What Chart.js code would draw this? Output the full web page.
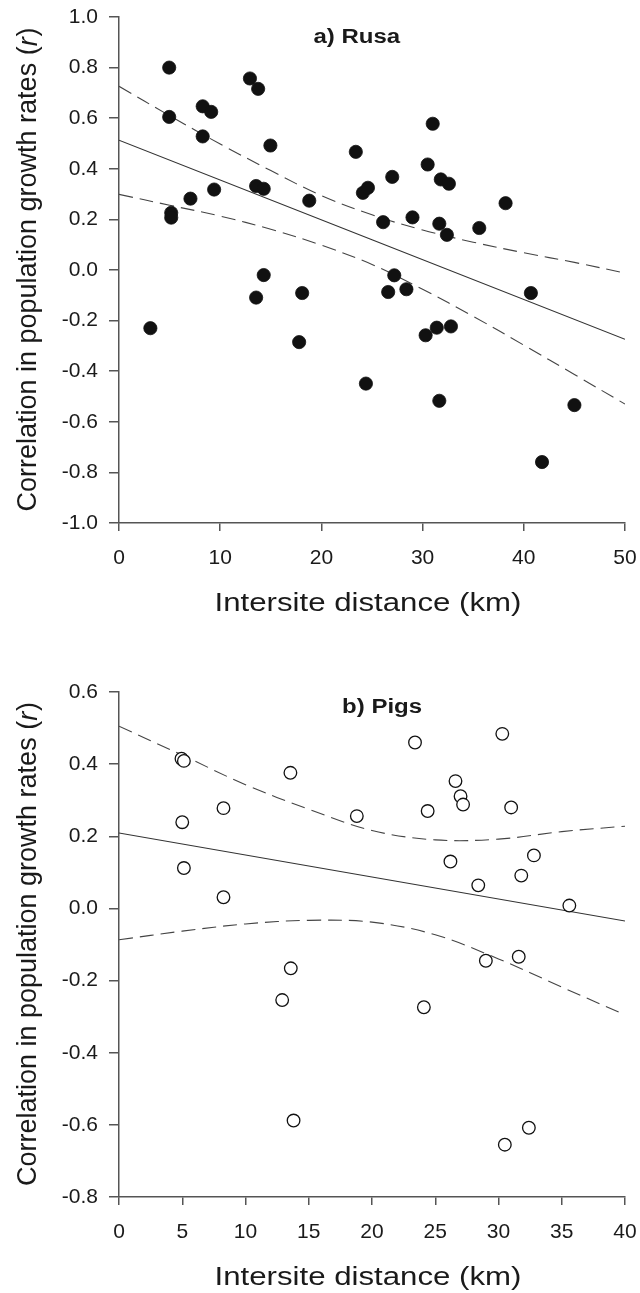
<!DOCTYPE html>
<html><head><meta charset="utf-8">
<script src="https://cdn.jsdelivr.net/npm/chart.js@4/dist/chart.umd.min.js"></script>
<style>
html,body{margin:0;padding:0;background:#fff;}
#wa{position:absolute;left:0;top:0;width:640px;height:640px;}
#wb{position:absolute;left:0;top:640px;width:640px;height:653px;}
</style></head><body>
<div id="wa"><canvas id="ca"></canvas></div>
<div id="wb"><canvas id="cb"></canvas></div>
<script>
// ---------- a) Rusa ----------
const rusaDistance = [4.96,4.96,5.16,5.16,7.06,8.27,9.11,8.27,9.4,12.94,13.75,14.96,13.55,14.3,14.3,13.55,18.1,18.8,23.4,24.1,24.6,27.0,26.1,27.2,26.6,28.4,29.0,30.5,31.0,31.8,32.6,31.65,32.4,35.6,38.2,40.7,3.1,17.8,24.4,30.3,31.4,32.8,31.65,45.0,41.8];
const rusaCorrelation = [0.80,0.605,0.226,0.207,0.282,0.647,0.625,0.528,0.318,0.757,0.716,0.492,0.332,0.321,-0.02,-0.109,-0.091,0.274,0.467,0.305,0.325,0.368,0.189,-0.021,-0.087,-0.076,0.208,0.417,0.578,0.358,0.341,0.183,0.139,0.166,0.264,-0.091,-0.23,-0.285,-0.449,-0.258,-0.228,-0.223,-0.517,-0.534,-0.759];
const rusaFitX = [0, 50];
const rusaFitY = [0.513, -0.274];
const rusaBandX = [0,5,10,15,20,25,30,35,40,45,50];
const rusaUpper = [0.726,0.610,0.498,0.393,0.294,0.218,0.158,0.110,0.068,0.030,-0.012];
const rusaLower = [0.299,0.256,0.213,0.161,0.098,0.022,-0.076,-0.183,-0.297,-0.413,-0.530];
const rusaXTicks = [0,10,20,30,40,50];
const rusaYTicks = [-1.0,-0.8,-0.6,-0.4,-0.2,0.0,0.2,0.4,0.6,0.8,1.0];

// ---------- b) Pigs ----------
const pigsDistance = [4.94,5.13,5.0,5.13,8.26,8.26,13.55,18.8,23.4,24.4,26.6,27.0,27.2,30.3,31.0,26.2,28.4,32.8,31.8,35.6,13.58,12.9,13.8,24.1,29.0,31.6,30.5,32.4];
const pigsCorrelation = [0.415,0.409,0.239,0.112,0.278,0.031,0.376,0.256,0.460,0.270,0.353,0.311,0.288,0.484,0.280,0.130,0.064,0.147,0.091,0.008,-0.166,-0.254,-0.588,-0.274,-0.145,-0.134,-0.655,-0.608];
const pigsFitX = [0, 40];
const pigsFitY = [0.209, -0.035];
const pigsBandX = [0,5,10,15,20,25,30,35,40];
const pigsUpper = [0.505,0.425,0.343,0.275,0.216,0.190,0.192,0.213,0.228];
const pigsLower = [-0.087,-0.063,-0.043,-0.033,-0.038,-0.073,-0.140,-0.218,-0.295];
const pigsXTicks = [0,5,10,15,20,25,30,35,40];
const pigsYTicks = [-0.8,-0.6,-0.4,-0.2,0.0,0.2,0.4,0.6];

const FONT = "'Liberation Sans', Arial, Helvetica, sans-serif";
const AXIS = '#555';
const TXT = '#1a1a1a';
const STRETCH = 1.2;

function pts(xs, ys){ return xs.map((x,i)=>({x:x, y:ys[i]})); }

function wideText(ctx, s, x, y){
  ctx.save();
  ctx.translate(x, y);
  ctx.scale(STRETCH, 1);
  ctx.fillText(s, 0, 0);
  ctx.restore();
}

const textPlugin = {
  id: 'textPlugin',
  afterDraw(chart, args, o){
    const ctx = chart.ctx, a = chart.chartArea;
    ctx.save();
    ctx.fillStyle = TXT;
    ctx.textAlign = 'center'; ctx.textBaseline = 'middle';
    // panel label in data coordinates
    ctx.font = 'bold ' + o.panelSize + 'px ' + FONT;
    wideText(ctx, o.panel, chart.scales.x.getPixelForValue(o.panelX), chart.scales.y.getPixelForValue(o.panelY));
    // x title
    ctx.font = o.titleSize + 'px ' + FONT;
    wideText(ctx, 'Intersite distance (km)', (a.left + a.right)/2 + o.xTitleDx, a.bottom + o.xTitleDy);
    // y title with italic r
    const cy = (a.top + a.bottom)/2;
    ctx.translate(o.yTitleX, cy);
    ctx.rotate(-Math.PI/2);
    const p1 = 'Correlation in population growth rates (', p2 = 'r', p3 = ')';
    const fN = o.yTitleSize + 'px ' + FONT, fI = 'italic ' + o.yTitleSize + 'px ' + FONT;
    ctx.font = fN; const w1 = ctx.measureText(p1).width, w3 = ctx.measureText(p3).width;
    ctx.font = fI; const w2 = ctx.measureText(p2).width;
    let x0 = -(w1+w2+w3)/2;
    ctx.textAlign = 'left';
    ctx.font = fN; ctx.fillText(p1, x0, 0);
    ctx.font = fI; ctx.fillText(p2, x0 + w1, 0);
    ctx.font = fN; ctx.fillText(p3, x0 + w1 + w2 + 1, 0);
    ctx.restore();
  }
};

function makeChart(id, cfg){
  const lineDs = (xs, ys, dash) => ({
    data: pts(xs, ys), showLine: true, pointRadius: 0, borderColor: dash ? '#444' : '#333',
    borderWidth: 1.1, borderDash: dash ? [14,7] : [], tension: 0.35, fill: false, order: 2
  });
  return new Chart(document.getElementById(id), {
    type: 'scatter',
    data: { datasets: [
      { data: pts(cfg.dx, cfg.dy), pointRadius: cfg.radius, pointHoverRadius: cfg.radius,
        pointBackgroundColor: cfg.filled ? '#111' : '#fff', pointBorderColor: '#111',
        pointBorderWidth: cfg.filled ? 0.8 : 1.3, order: 1 },
      lineDs(cfg.fx, cfg.fy, false),
      lineDs(cfg.bx, cfg.up, true),
      lineDs(cfg.bx, cfg.lo, true)
    ]},
    options: {
      responsive: true, maintainAspectRatio: false, animation: false,
      layout: { padding: { top: cfg.padTop, right: 15, left: 0, bottom: 0 } },
      plugins: { legend: {display:false}, tooltip: {enabled:false},
        textPlugin: { panel: cfg.panel, panelX: cfg.panelX, panelY: cfg.panelY, panelSize: 20,
          titleSize: 26, yTitleSize: 27, xTitleDx: -4, xTitleDy: 81, yTitleX: 29 } },
      scales: {
        x: { type: 'linear', min: cfg.xTicks[0], max: cfg.xTicks[cfg.xTicks.length-1],
          afterBuildTicks: s => { s.ticks = cfg.xTicks.map(v=>({value:v})); },
          afterFit: s => { s.height = cfg.xHeight; s.paddingLeft = 0; s.paddingRight = 0; },
          grid: { display: true, drawOnChartArea: false, drawTicks: true, tickLength: 8, color: AXIS, lineWidth: 1.5 },
          border: { display: true, color: AXIS, width: 1.5 },
          ticks: { color: TXT, font: { family: FONT, size: 21 }, padding: 15, maxRotation: 0,
            callback: v => String(v) } },
        y: { type: 'linear', min: cfg.yTicks[0], max: cfg.yTicks[cfg.yTicks.length-1],
          afterBuildTicks: s => { s.ticks = cfg.yTicks.map(v=>({value:v})); },
          afterFit: s => { s.width = 119; s.paddingTop = 0; s.paddingBottom = 0; },
          grid: { display: true, drawOnChartArea: false, drawTicks: true, tickLength: 10, color: AXIS, lineWidth: 1.5 },
          border: { display: true, color: AXIS, width: 1.5 },
          ticks: { color: TXT, font: { family: FONT, size: 21 }, padding: 11,
            callback: v => Number(v).toFixed(1) } }
      }
    },
    plugins: [textPlugin]
  });
}

makeChart('ca', { dx: rusaDistance, dy: rusaCorrelation, fx: rusaFitX, fy: rusaFitY,
  bx: rusaBandX, up: rusaUpper, lo: rusaLower, xTicks: rusaXTicks, yTicks: rusaYTicks,
  filled: true, radius: 6.6, panel: 'a) Rusa', panelX: 23.5, panelY: 0.92, padTop: 17, xHeight: 117 });
makeChart('cb', { dx: pigsDistance, dy: pigsCorrelation, fx: pigsFitX, fy: pigsFitY,
  bx: pigsBandX, up: pigsUpper, lo: pigsLower, xTicks: pigsXTicks, yTicks: pigsYTicks,
  filled: false, radius: 6.3, panel: 'b) Pigs', panelX: 20.8, panelY: 0.556, padTop: 52, xHeight: 96 });
</script>
</body></html>
